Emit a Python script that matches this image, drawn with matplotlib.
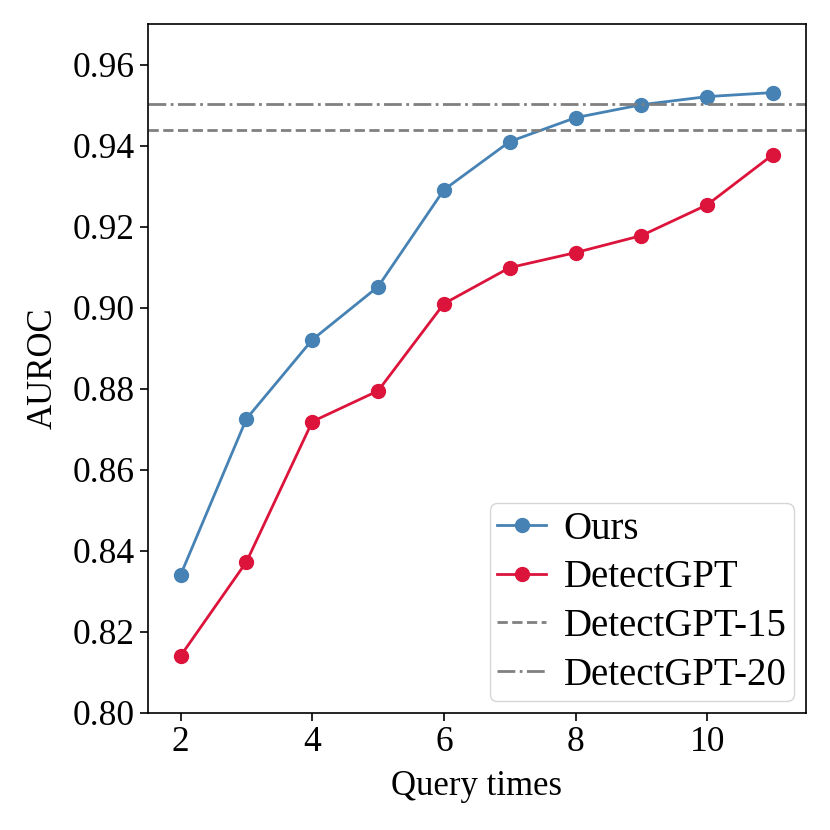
import matplotlib
matplotlib.use("Agg")
import matplotlib.pyplot as plt

# query times on x axis
query_times = [2, 3, 4, 5, 6, 7, 8, 9, 10, 11]

# AUROC values
ours = [0.8341, 0.8726, 0.8921, 0.9052, 0.9291, 0.9410, 0.9469, 0.9501, 0.9521, 0.9531]
detectgpt = [0.8141, 0.8373, 0.8719, 0.8795, 0.9010, 0.9099, 0.9136, 0.9178, 0.9254, 0.9378]

# baselines
detectgpt_15 = 0.9438
detectgpt_20 = 0.9502

plt.rcParams['font.family'] = ['Liberation Serif', 'DejaVu Serif']

fig = plt.figure(figsize=(8.3, 8.3), dpi=100)
ax = fig.add_axes([0.178, 0.141, 0.793, 0.830])

ax.plot(query_times, ours, color='#4682B4', marker='o', markersize=10,
        linewidth=2, label='Ours')
ax.plot(query_times, detectgpt, color='#DC143C', marker='o', markersize=10,
        linewidth=2, label='DetectGPT')
ax.axhline(detectgpt_15, color='gray', linestyle='--', linewidth=2,
           label='DetectGPT-15')
ax.axhline(detectgpt_20, color='gray', linestyle='-.', linewidth=2,
           label='DetectGPT-20')

ax.set_xlim(1.5, 11.5)
ax.set_ylim(0.80, 0.97)
ax.set_xticks([2, 4, 6, 8, 10])
ax.set_yticks([0.80, 0.82, 0.84, 0.86, 0.88, 0.90, 0.92, 0.94, 0.96])
ax.tick_params(labelsize=25.5, length=6, width=1.2)
for s in ax.spines.values():
    s.set_linewidth(1.2)

ax.set_xlabel('Query times', fontsize=25, labelpad=8)
ax.set_ylabel('AUROC', fontsize=25, labelpad=9)

ax.legend(loc='lower right', fontsize=28, handlelength=1.25,
          handletextpad=0.45, borderpad=0.2, labelspacing=0.3,
          borderaxespad=0.3)

fig.savefig('out.png', dpi=100)
